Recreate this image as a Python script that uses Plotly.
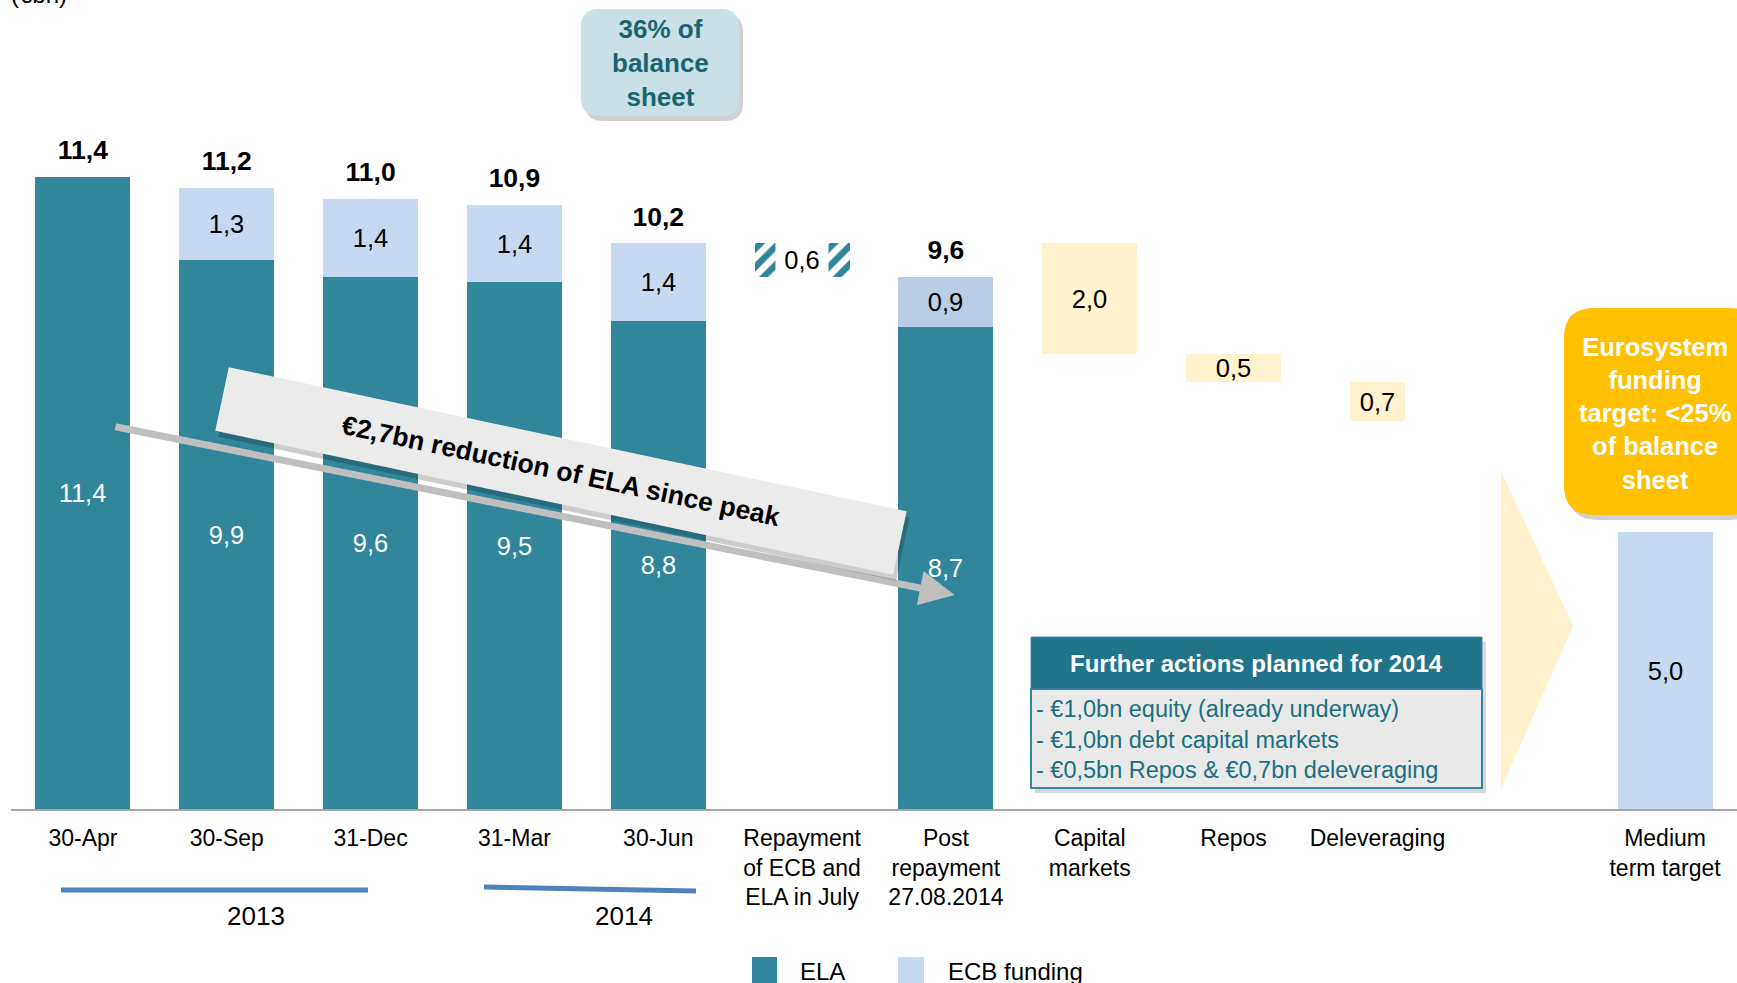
import plotly.graph_objects as go

# Kategorien (Index 10 bleibt leer, dort steht der Pfeil)
categories = ["30-Apr", "30-Sep", "31-Dec", "31-Mar", "30-Jun",
              "Repayment<br>of ECB and<br>ELA in July", "Post<br>repayment<br>27.08.2014",
              "Capital<br>markets", "Repos", "Deleveraging", "", "Medium<br>term target"]

# ELA / ECB Werte (€bn)
ela_x = [0, 1, 2, 3, 4, 6]
ela_values = [11.4, 9.9, 9.6, 9.5, 8.8, 8.7]
ecb_x = [1, 2, 3, 4, 6]
ecb_values = [1.3, 1.4, 1.4, 1.4, 0.9]
target_x = [11]
target_values = [5.0]

# Rueckzahlung Juli
repay_x = [5]
repay_from = [9.6]
repay_values = [0.6]

# geplante Massnahmen (Wasserfall)
action_x = [7, 8, 9]
action_top = [10.2, 8.2, 7.7]
action_values = [2.0, 0.5, 0.7]

TEAL = "#31869b"
LIGHT = "#c6d9f1"
LIGHT2 = "#b9cde5"
YELLOW = "#fff2cc"
FONT = "Liberation Sans, Arial, sans-serif"

W, H = 1737, 983
L, PW, PH = 11, 1726, 809


def fmt(v):
    return f"{v:.1f}".replace(".", ",")


def px_x(px):
    return (px - L) / PW


def px_y(py):
    return (PH - py) / PH


def rounded_rect(x0, y0, x1, y1, r):
    pts = [("M", x0 + r, y0), ("L", x1 - r, y0), ("Q", x1, y0, x1, y0 + r),
           ("L", x1, y1 - r), ("Q", x1, y1, x1 - r, y1), ("L", x0 + r, y1),
           ("Q", x0, y1, x0, y1 - r), ("L", x0, y0 + r), ("Q", x0, y0, x0 + r, y0)]
    out = ""
    for p in pts:
        cmd, coords = p[0], p[1:]
        xy = []
        for i in range(0, len(coords), 2):
            xy.append(f"{px_x(coords[i]):.5f},{px_y(coords[i + 1]):.5f}")
        out += cmd + " ".join(xy) + " "
    return out + "Z"


def text_ann(xp, yp, text, size=24, color="black", **kw):
    d = dict(xref="paper", yref="paper", x=px_x(xp), y=px_y(yp), text=text, showarrow=False,
             xanchor="center", yanchor="middle", font=dict(size=size, color=color, family=FONT))
    d.update(kw)
    return d


fig = go.Figure()

# ELA
fig.add_trace(go.Bar(
    x=ela_x, y=ela_values, base=[0] * len(ela_x), name="ELA", showlegend=False,
    marker=dict(color=TEAL, line_width=0), width=0.66,
    text=[fmt(v) for v in ela_values], textposition="inside", insidetextanchor="middle",
    constraintext="none", textangle=0,
    textfont=dict(color="white", size=25.5, family=FONT),
))

# ECB funding
ecb_base = [ela_values[ela_x.index(x)] for x in ecb_x]
fig.add_trace(go.Bar(
    x=ecb_x + target_x, y=ecb_values + target_values, base=ecb_base + [0] * len(target_x),
    name="ECB funding", showlegend=False,
    marker=dict(color=[LIGHT, LIGHT, LIGHT, LIGHT, LIGHT2, LIGHT], line_width=0), width=0.66,
    text=[fmt(v) for v in ecb_values + target_values], textposition="inside",
    insidetextanchor="middle", constraintext="none", textangle=0,
    textfont=dict(color="black", size=25.5, family=FONT),
))

# Rueckzahlung (schraffiert)
fig.add_trace(go.Bar(
    x=repay_x, y=repay_values, base=repay_from, showlegend=False,
    marker=dict(color="white", line_width=0,
                pattern=dict(shape="/", fgcolor=TEAL, bgcolor="white", fgopacity=1,
                             size=13, solidity=0.5)),
    width=0.66,
))

# Massnahmen
fig.add_trace(go.Bar(
    x=action_x, y=action_values, base=[t - v for t, v in zip(action_top, action_values)],
    showlegend=False, marker=dict(color=YELLOW, line_width=0), width=[0.66, 0.66, 0.38],
    text=[fmt(v) for v in action_values], textposition="inside", insidetextanchor="middle",
    constraintext="none", textangle=0,
    textfont=dict(color="black", size=25.5, family=FONT),
))

# Summen ueber den Balken
totals_x = ela_x
totals = [round(v + (ecb_values[ecb_x.index(x)] if x in ecb_x else 0), 1) for x, v in zip(ela_x, ela_values)]
fig.add_trace(go.Scatter(
    x=totals_x, y=totals, mode="markers+text", showlegend=False,
    marker=dict(size=16, opacity=0), text=[fmt(v) for v in totals], textposition="top center",
    textfont=dict(color="black", size=26.5, family=FONT, weight="bold"), hoverinfo="skip",
))

shapes = []
# Jahresbalken
shapes.append(dict(type="line", xref="paper", yref="paper", x0=px_x(61), x1=px_x(368),
                   y0=px_y(890), y1=px_y(890), line=dict(color="#4f81bd", width=5)))
shapes.append(dict(type="line", xref="paper", yref="paper", x0=px_x(484), x1=px_x(696),
                   y0=px_y(887), y1=px_y(891), line=dict(color="#4f81bd", width=5)))

# Pfeil (Chevron) vor Zielbalken
shapes.append(dict(type="path", xref="paper", yref="paper", layer="below",
                   path=f"M{px_x(1501)},{px_y(471)} L{px_x(1573)},{px_y(626)} L{px_x(1501)},{px_y(789)} Z",
                   fillcolor=YELLOW, line_width=0))

# 36% Box
shapes.append(dict(type="path", xref="paper", yref="paper",
                   path=rounded_rect(585, 14, 743, 121, 18), fillcolor="rgba(0,0,0,0.18)", line_width=0))
shapes.append(dict(type="path", xref="paper", yref="paper",
                   path=rounded_rect(581, 9, 739, 116, 18), fillcolor="#cbe0e6", line_width=0))

# Eurosystem Box
shapes.append(dict(type="path", xref="paper", yref="paper",
                   path=rounded_rect(1568, 313, 1760, 520, 30), fillcolor="rgba(0,0,0,0.18)", line_width=0))
shapes.append(dict(type="path", xref="paper", yref="paper",
                   path=rounded_rect(1564, 308, 1760, 515, 30), fillcolor="#ffc000", line_width=0))

# Further actions Box
shapes.append(dict(type="rect", xref="paper", yref="paper", x0=px_x(1035), x1=px_x(1486),
                   y0=px_y(642), y1=px_y(793), fillcolor="rgba(0,0,0,0.15)", line_width=0))
shapes.append(dict(type="rect", xref="paper", yref="paper", x0=px_x(1031), x1=px_x(1482),
                   y0=px_y(689), y1=px_y(788), fillcolor="#e9e9e9", line=dict(color=TEAL, width=2)))
shapes.append(dict(type="rect", xref="paper", yref="paper", x0=px_x(1031), x1=px_x(1482),
                   y0=px_y(637), y1=px_y(689), fillcolor="#21738a", line=dict(color="#4f81bd", width=1)))

# Legende
shapes.append(dict(type="rect", xref="paper", yref="paper", x0=px_x(752), x1=px_x(777),
                   y0=px_y(957), y1=px_y(986), fillcolor=TEAL, line_width=0))
shapes.append(dict(type="rect", xref="paper", yref="paper", x0=px_x(898), x1=px_x(924),
                   y0=px_y(957), y1=px_y(986), fillcolor=LIGHT, line_width=0))

annotations = []
annotations.append(text_ann(9, -5, "(€bn)", xanchor="left"))
annotations.append(text_ann(798, 971, "ELA", xanchor="left"))
annotations.append(text_ann(946, 971, "ECB funding", xanchor="left"))
# Jahre
annotations.append(text_ann(256, 916, "2013", size=26))
annotations.append(text_ann(624, 916, "2014", size=26))

# 0,6 Beschriftung mit weissem Hintergrund
annotations.append(dict(x=repay_x[0], y=repay_from[0] + repay_values[0] / 2, text=fmt(repay_values[0]),
                        showarrow=False, bgcolor="white", width=52, height=36, borderpad=0,
                        xanchor="center", yanchor="middle",
                        font=dict(size=25.5, color="black", family=FONT)))

# grosser Pfeil
annotations.append(dict(x=6.06, y=3.86, ax=0.216, ay=6.9, axref="x", ayref="y", text="",
                        showarrow=True, arrowhead=2, arrowsize=1, arrowwidth=7, arrowcolor="#bfbfbf"))

# gedrehte Box
annotations.append(dict(x=3.324, y=6.1, text="", showarrow=False, textangle=12,
                        xanchor="center", yanchor="middle",
                        width=690, height=62, bgcolor="rgba(0,0,0,0.2)", xshift=3, yshift=-6))
annotations.append(dict(x=3.324, y=6.1, text="<b>€2,7bn reduction of ELA since peak</b>",
                        showarrow=False, textangle=12, width=690, height=62, bgcolor="#ebebeb",
                        xanchor="center", yanchor="middle",
                        font=dict(size=26.5, color="black", family=FONT)))

# 36% Text
annotations.append(text_ann(660, 63, "<b>36% of<br>balance<br>sheet</b>", size=26, color="#17666f"))

# Eurosystem Text
annotations.append(text_ann(1655, 413, "<b>Eurosystem<br>funding<br>target: &lt;25%<br>of balance<br>sheet</b>",
                            size=25.5, color="white"))

# Further actions
annotations.append(text_ann(1256, 663, "<b>Further actions planned for 2014</b>", size=24, color="white"))
annotations.append(text_ann(1034, 739,
                            "- €1,0bn equity (already underway)<br>- €1,0bn debt capital markets"
                            "<br>- €0,5bn Repos & €0,7bn deleveraging",
                            size=23.5, color="#1a7080", xanchor="left", align="left"))

fig.update_layout(
    width=W, height=H,
    margin=dict(l=L, r=0, t=0, b=H - PH, autoexpand=False),
    plot_bgcolor="white", paper_bgcolor="white",
    barmode="overlay", bargap=0,
    font=dict(family=FONT, size=24, color="black"),
    showlegend=False,
    shapes=shapes, annotations=annotations,
)
fig.update_xaxes(range=[-0.5, 11.5], tickmode="array", tickvals=list(range(12)), ticktext=categories,
                 showline=True, linecolor="#a6a6a6", linewidth=2, showgrid=False, zeroline=False,
                 ticks="", ticklabelstandoff=7, tickfont=dict(size=23, color="black"), fixedrange=True)
fig.update_yaxes(range=[0, PH / 55.45], visible=False, showgrid=False, fixedrange=True)

# Seitenrand entfernen, damit das Bild genau im Fenster sitzt
fig.write_html("out.html", config={"displayModeBar": False},
               post_script="document.body.style.margin='0';")
